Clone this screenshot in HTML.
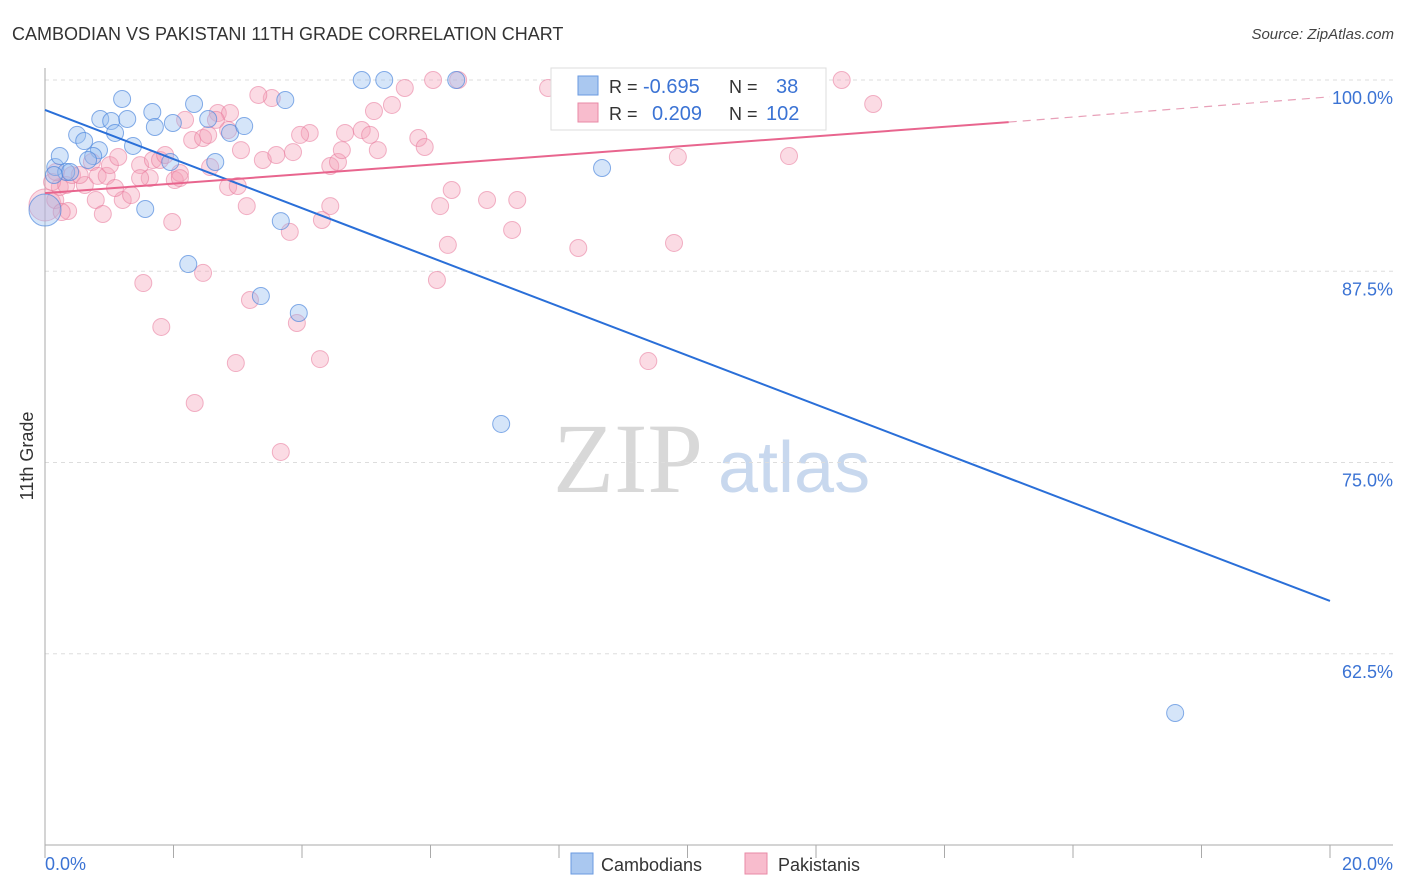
<!DOCTYPE html>
<html><head><meta charset="utf-8">
<style>
body{margin:0;background:#fff;font-family:"Liberation Sans",sans-serif;}
#wrap{position:relative;width:1406px;height:892px;overflow:hidden;}
svg text{font-family:"Liberation Sans",sans-serif;}
</style></head>
<body>
<div id="wrap">
<svg id="chart" width="1406" height="892">
  <text x="12" y="40" font-size="18" fill="#333">CAMBODIAN VS PAKISTANI 11TH GRADE CORRELATION CHART</text>
  <text x="1394" y="39" font-size="15" fill="#444" text-anchor="end" font-style="italic">Source: ZipAtlas.com</text>
  <text x="33" y="456" font-size="18" fill="#333" text-anchor="middle" transform="rotate(-90 33 456)">11th Grade</text>
  <g>
    <text x="553" y="492" font-size="100" fill="#d8d8d8" font-family="Liberation Serif" style="font-family:'Liberation Serif',serif">ZIP</text>
    <text x="718" y="492" font-size="72" fill="#c8d8ee">atlas</text>
  </g>
  <g id="grid"></g>
  <g id="axes"></g>
  <g id="pinkPts"></g>
  <g id="bluePts"></g>
  <g id="lines"></g>
  <g>
    <rect x="551" y="68" width="275" height="62" fill="#fff" stroke="#ddd"/>
    <rect x="578" y="76" width="20" height="19" fill="#aac8f0" stroke="#6a9ae0"/>
    <text x="609" y="93" font-size="18" fill="#333">R = </text>
    <text x="643" y="93" font-size="20" fill="#3b73d4">-0.695</text>
    <text x="729" y="93" font-size="18" fill="#333">N = </text>
    <text x="776" y="93" font-size="20" fill="#3b73d4">38</text>
    <rect x="578" y="103" width="20" height="19" fill="#f8bccd" stroke="#e88aa6"/>
    <text x="609" y="120" font-size="18" fill="#333">R = </text>
    <text x="652" y="120" font-size="20" fill="#3b73d4">0.209</text>
    <text x="729" y="120" font-size="18" fill="#333">N = </text>
    <text x="766" y="120" font-size="20" fill="#3b73d4">102</text>
  </g>
  <g>
    <rect x="571" y="853" width="22" height="21" fill="#aac8f0" stroke="#6a9ae0"/>
    <text x="601" y="871" font-size="18" fill="#333">Cambodians</text>
    <rect x="745" y="853" width="22" height="21" fill="#f8bccd" stroke="#e88aa6"/>
    <text x="778" y="871" font-size="18" fill="#333">Pakistanis</text>
  </g>
</svg>
</div>
<script>
const yTicks=[100,87.5,75,62.5];
const yTickLabels=["100.0%","87.5%","75.0%","62.5%"];
const xTickCount=10;
const xLabels=["0.0%","20.0%"];
const blueX=[0.16,0.23,0.50,0.61,0.86,1.03,1.09,1.28,1.20,1.67,1.71,1.99,1.37,0.84,0.75,0.33,1.95,2.32,2.54,2.88,3.10,2.65,3.74,4.93,5.28,6.40,1.56,3.67,2.23,3.36,3.95,8.67,7.10,17.59,0.0,0.39,0.14,0.67];
const blueY=[94.31,95.03,96.41,96.01,97.45,97.32,96.54,97.45,98.76,97.91,96.93,97.19,95.69,95.42,95.03,93.99,94.64,98.43,97.45,96.54,96.99,94.64,98.69,100,100,100,91.57,90.78,87.97,85.88,84.77,94.25,77.52,58.63,91.5,93.99,93.79,94.77];
const pinkX=[0,0.36,0.16,0.23,0.11,0.17,0.33,0.42,0.62,0.73,0.82,0.79,0.90,0.96,1.01,1.14,1.21,1.34,1.48,1.63,1.68,1.79,1.98,2.02,2.10,2.18,2.29,2.46,2.54,2.69,2.88,2.85,3.00,3.14,3.05,3.39,3.53,3.32,3.60,3.86,3.81,4.12,4.31,4.44,4.44,4.56,4.62,4.67,4.93,5.06,5.12,5.18,5.40,5.60,5.81,5.91,6.04,6.15,6.27,6.10,6.33,6.88,7.27,7.35,7.83,8.14,8.22,8.30,8.95,9.39,9.79,9.85,11.24,11.58,12.40,12.89,1.53,1.81,2.46,3.19,3.92,2.97,4.28,2.33,3.67,1.09,0.54,1.48,2.57,2.85,2.66,2.10,0.26,9.34,6.43,3.97,1.87];
const pinkY=[91.83,91.44,92.16,93.01,93.33,93.99,93.14,93.79,93.14,94.64,93.73,92.16,91.24,93.73,94.44,94.97,92.16,92.48,94.44,93.59,94.77,94.77,90.72,93.46,93.92,97.39,96.08,96.21,96.41,97.84,97.84,93.01,93.07,91.76,95.42,94.77,98.82,99.02,95.10,95.29,90.07,96.54,90.85,91.76,94.38,94.64,95.42,96.54,96.73,96.41,97.97,95.42,98.37,99.48,96.21,95.62,100,91.76,89.22,86.93,92.81,92.16,90.20,92.16,99.48,100,98.69,89.02,97.52,81.63,89.35,94.97,100,95.03,100,98.43,86.73,83.86,87.39,85.62,84.12,81.50,81.76,78.89,75.69,92.94,93.79,93.59,94.31,96.73,97.39,93.59,91.37,97.52,100,96.41,95.10];
const blueTrend=[98.04,65.95];
const pinkTrend=[92.61,97.25,98.9];
const NS="http://www.w3.org/2000/svg";
const X0=45,X1=1330,Y0=80,Y1=845,XMIN=0,XMAX=20,YMIN=50,YMAX=100;
function sx(v){return X0+(v-XMIN)/(XMAX-XMIN)*(X1-X0);}
function sy(v){return Y0+(YMAX-v)/(YMAX-YMIN)*(Y1-Y0);}
function mk(tag,attrs,parent){const e=document.createElementNS(NS,tag);for(const k in attrs)e.setAttribute(k,attrs[k]);parent.appendChild(e);return e;}
const grid=document.getElementById('grid');
yTicks.forEach((t,i)=>{
  const l=mk('line',{x1:X0,x2:1393,y1:sy(t),y2:sy(t),stroke:'#ddd','stroke-dasharray':'4,4'},grid);
  
  
  const tx=mk('text',{x:1393,y:sy(t)+24,'font-size':18,fill:'#3b73d4','text-anchor':'end'},grid);
  tx.textContent=yTickLabels[i];
  
  
});
const axes=document.getElementById('axes');
const ya=mk('line',{x1:X0,x2:X0,y1:68,y2:Y1,stroke:'#aaa'},axes);


const xa=mk('line',{x1:X0,x2:1393,y1:Y1,y2:Y1,stroke:'#aaa'},axes);


for(let i=0;i<=xTickCount;i++){
  const v=XMIN+i*(XMAX-XMIN)/xTickCount;
  const t=mk('line',{x1:sx(v),x2:sx(v),y1:Y1,y2:Y1+13,stroke:'#aaa'},axes);
  
  
}
const xl0=mk('text',{x:X0,y:870,'font-size':18,fill:'#3b73d4'},axes);
xl0.textContent=xLabels[0];


const xl1=mk('text',{x:1393,y:870,'font-size':18,fill:'#3b73d4','text-anchor':'end'},axes);
xl1.textContent=xLabels[1];


const pg=document.getElementById('pinkPts');
pinkX.forEach((x,i)=>{
  const c=mk('circle',{cx:sx(x),cy:sy(pinkY[i]),r:i===0?16:8.5,fill:'rgba(244,160,185,0.38)',stroke:'rgba(232,120,155,0.55)','stroke-width':1},pg);
  
  
});
const bg=document.getElementById('bluePts');
blueX.forEach((x,i)=>{
  const c=mk('circle',{cx:sx(x),cy:sy(blueY[i]),r:i===34?16:8.5,fill:'rgba(150,190,240,0.4)',stroke:'rgba(70,130,220,0.65)','stroke-width':1},bg);
  
  
});
const lg=document.getElementById('lines');
const bl=mk('line',{x1:sx(0),y1:sy(blueTrend[0]),x2:sx(20),y2:sy(blueTrend[1]),stroke:'#2a6fd8','stroke-width':2},lg);


const pl=mk('line',{x1:sx(0),y1:sy(pinkTrend[0]),x2:sx(15),y2:sy(pinkTrend[1]),stroke:'#e8658e','stroke-width':2},lg);


const pd=mk('line',{x1:sx(15),y1:sy(pinkTrend[1]),x2:sx(20),y2:sy(pinkTrend[2]),stroke:'#e8a0b8','stroke-width':1.2,'stroke-dasharray':'8,6'},lg);


</script>
</body></html>
